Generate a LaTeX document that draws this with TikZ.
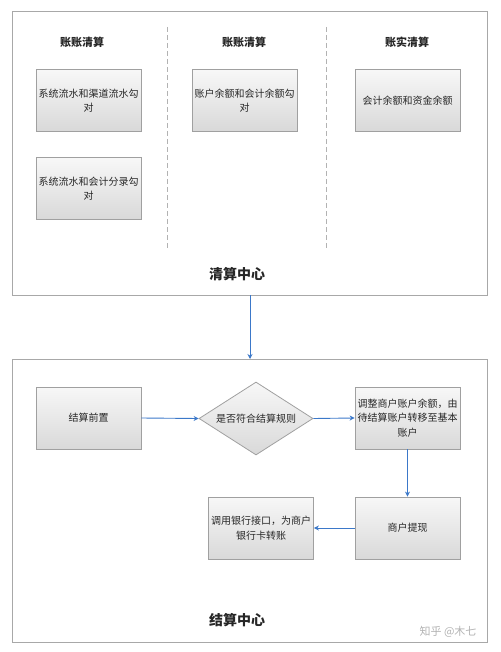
\documentclass[tikz,border=0pt]{standalone}
\usepackage{fontspec}
\setmainfont{Noto Sans CJK SC}
\usetikzlibrary{arrows.meta,shapes.geometric}
\definecolor{framegray}{HTML}{A8A8A8}
\definecolor{boxline}{HTML}{A0A0A0}
\definecolor{arrowblue}{HTML}{3B78C9}
\begin{document}
\begin{tikzpicture}[x=1pt,y=-1pt,
  frame/.style={draw=framegray,line width=1pt},
  procbox/.style={draw=boxline,line width=0.8pt,top color=black!3,bottom color=black!15,
    minimum width=105pt,minimum height=62pt,inner sep=1pt,align=center,
    font=\fontsize{10}{14.5}\selectfont,text=black!85},
  header/.style={font=\fontsize{11}{13}\selectfont\bfseries,text=black!85},
  title/.style={font=\fontsize{14}{16}\selectfont\bfseries,text=black!85},
  sep/.style={draw=black!30,dashed,dash pattern=on 5pt off 3pt,line width=0.7pt},
  flow/.style={draw=arrowblue,line width=0.9pt,-{Stealth[length=5pt,width=5pt]}}
]
\useasboundingbox (0,0) rectangle (500,652);
% top frame
\node[frame,minimum width=475pt,minimum height=283pt,inner sep=0pt] (top) at (249.5,153.5) {};
\node[header] (h1) at (82,42) {账账清算};
\node[header] (h2) at (244,42) {账账清算};
\node[header] (h3) at (407,42) {账实清算};
\coordinate (d1a) at (167,27); \coordinate (d1b) at (167,250);
\coordinate (d2a) at (326,27); \coordinate (d2b) at (326,250);
\draw[sep] (d1a) -- (d1b);
\draw[sep] (d2a) -- (d2b);
\node[procbox] (b1) at (88.5,100.5) {系统流水和渠道流水勾\\对};
\node[procbox] (b2) at (88.5,188.5) {系统流水和会计分录勾\\对};
\node[procbox] (b3) at (244.5,100.5) {账户余额和会计余额勾\\对};
\node[procbox] (b4) at (407.5,100.5) {会计余额和资金余额};
\node[title] (t1) at (237,274) {清算中心};
% bottom frame
\node[frame,minimum width=475pt,minimum height=283pt,inner sep=0pt] (bot) at (249.5,500.5) {};
\coordinate (ta) at (250,295);
\coordinate (tb) at (250,359);
\draw[flow] (ta) -- (tb);
\node[procbox] (s1) at (88.5,418) {结算前置};
\node[diamond,draw=boxline,line width=0.8pt,top color=black!3,bottom color=black!15,
  minimum width=114pt,minimum height=73pt,inner sep=0pt,aspect=1.56,
  font=\fontsize{10}{12}\selectfont,text=black!85] (dm) at (256,418.5) {是否符合结算规则};
\node[procbox] (s2) at (407.5,418) {调整商户账户余额，由\\待结算账户转移至基本\\账户};
\node[procbox] (s3) at (407.5,528) {商户提现};
\node[procbox] (s4) at (261,528) {调用银行接口，为商户\\银行卡转账};
\draw[flow] (s1.east) -- (dm.west);
\draw[flow] (dm.east) -- (s2.west);
\draw[flow] (s2.south) -- (s3.north);
\draw[flow] (s3.west) -- (s4.east);
\node[title] (t2) at (237,620) {结算中心};
\node[font=\fontsize{11}{13}\selectfont,text=black!30] (wm) at (448,632) {知乎 @木七};
\end{tikzpicture}
\end{document}
